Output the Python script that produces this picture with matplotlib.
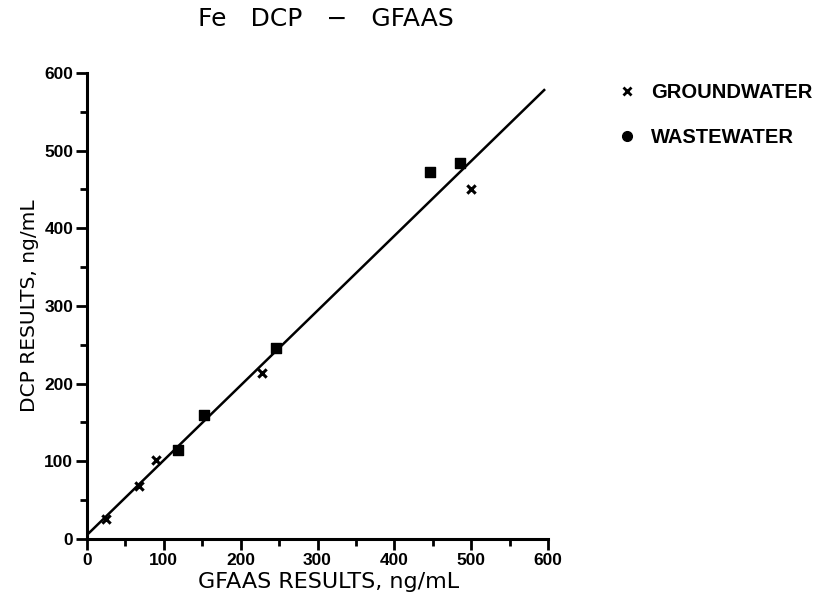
import matplotlib
matplotlib.use("Agg")
import matplotlib.pyplot as plt
from matplotlib.lines import Line2D
from matplotlib.ticker import MultipleLocator
import numpy as np

# ------------------------------ Data ------------------------------

ground_x = [25, 68, 90, 228, 500]
ground_y = [25, 68, 101, 213, 450]

waste_x = [118, 152, 246, 446, 486]
waste_y = [115, 160, 246, 472, 484]

# regression line
fit_slope = 0.963
fit_intercept = 5
fit_range = [0, 595]

x_ticks = [0, 100, 200, 300, 400, 500, 600]
y_ticks = [0, 100, 200, 300, 400, 500, 600]

# ------------------------------ Plot ------------------------------

plt.rcParams['font.family'] = ['Liberation Sans', 'DejaVu Sans']

fig = plt.figure(figsize=(8.21, 5.98), dpi=100)
ax = fig.add_axes([0.106, 0.099, 0.5615, 0.779])

fx = np.array(fit_range)
ax.plot(fx, fit_intercept + fit_slope * fx, color='black', lw=1.8, zorder=2)

ax.scatter(ground_x, ground_y, marker='x', s=36, color='black', linewidths=2.2, zorder=3)
ax.scatter(waste_x, waste_y, marker='s', s=45, color='black', zorder=3)

ax.set_xlim(0, 600)
ax.set_ylim(0, 600)
ax.set_xticks(x_ticks)
ax.set_yticks(y_ticks)
ax.xaxis.set_minor_locator(MultipleLocator(50))
ax.yaxis.set_minor_locator(MultipleLocator(50))

for side in ['top', 'right']:
    ax.spines[side].set_visible(False)
for side in ['left', 'bottom']:
    ax.spines[side].set_linewidth(2.2)

ax.tick_params(which='major', direction='out', length=8, width=2, labelsize=12.5, pad=2)
ax.tick_params(which='minor', direction='out', length=5, width=2)
for lab in ax.get_xticklabels() + ax.get_yticklabels():
    lab.set_fontweight('bold')

ax.set_xlabel('GFAAS RESULTS, ng/mL', fontsize=16, family='DejaVu Sans', labelpad=3)
ax.xaxis.label.set_x(0.525)
ax.set_ylabel('DCP RESULTS, ng/mL', fontsize=14.5, family='DejaVu Sans', labelpad=4)

fig.text(0.397, 0.968, 'Fe   DCP   \u2212   GFAAS', fontsize=18, family='DejaVu Sans',
         ha='center', va='center')

handles = [
    Line2D([], [], marker='x', color='black', linestyle='none', markersize=6, markeredgewidth=2),
    Line2D([], [], marker='o', color='black', linestyle='none', markersize=7),
]
leg = fig.legend(handles, ['GROUNDWATER', 'WASTEWATER'], loc='upper left',
                 bbox_to_anchor=(0.742, 0.875), frameon=False,
                 prop={'size': 14.5, 'weight': 'bold'}, labelspacing=1.3,
                 handletextpad=0.7, handlelength=1.0, borderaxespad=0)

fig.savefig('out.png', dpi=100)
